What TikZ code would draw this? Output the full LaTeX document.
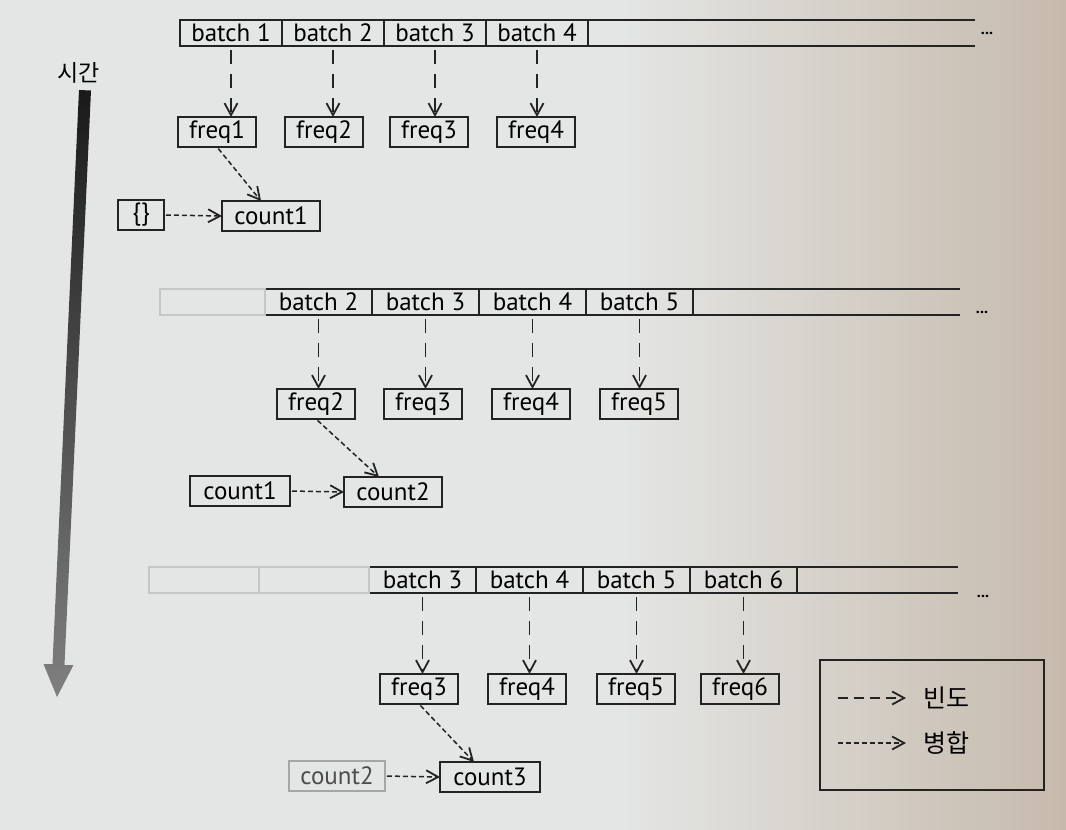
\documentclass[tikz,border=0pt]{standalone}
\usepackage{fontspec}
\setmainfont{PT Sans}
\newfontfamily\kofont{Noto Sans CJK KR}
\usetikzlibrary{positioning,arrows.meta}
\definecolor{paper}{RGB}{228,230,229}
\definecolor{paperdark}{RGB}{198,186,172}
\definecolor{ink}{RGB}{35,35,35}
\tikzset{
	cell/.style={draw=ink,line width=0.9pt,minimum width=#1,minimum height=13pt,inner sep=0pt,outer sep=0pt,font=\fontsize{12.5}{14}\selectfont},
	cell/.default=51pt,
	emptycell/.style={cell=#1,draw=gray!45},
	box/.style={draw=ink,line width=0.9pt,minimum width=#1,minimum height=15pt,inner sep=1pt,outer sep=0pt,font=\fontsize{12.5}{14}\selectfont},
	box/.default=39pt,
	freqarrow/.style={ink,line width=0.75pt,dash pattern=on 7pt off 5pt,shorten <=2pt,-{Straight Barb[length=6pt,width=6.5pt,line width=0.9pt]}},
	mergearrow/.style={ink,line width=0.75pt,dash pattern=on 2.5pt off 1.5pt,shorten <=1pt,-{Straight Barb[length=6pt,width=6.5pt,line width=0.9pt]}},
	dots/.style={font=\bfseries\fontsize{8}{8}\selectfont,inner sep=0pt}
}
\begin{document}
\begin{tikzpicture}[x=0.5pt,y=-0.5pt]
		\useasboundingbox (0,0) rectangle (1066,830);
		\fill[paper] (0,0) rectangle (1066,830);
		\shade[left color=paper,right color=paperdark] (620,0) rectangle (1066,830);
		\shade[top color=black!90,bottom color=black!50]
			(79,90) -- (91,90.5) -- (64.5,665) -- (73.5,665) -- (57,697) -- (43.5,664) -- (52.5,664) -- cycle;
		\node[font=\kofont\fontsize{11.5}{13}\selectfont] (time) at (79,73) {시간};

		\node[cell] (b11) at (231,33) {batch 1};
		\node[cell] (b12) [right=0 of b11] {batch 2};
		\node[cell] (b13) [right=0 of b12] {batch 3};
		\node[cell] (b14) [right=0 of b13] {batch 4};
		\coordinate (t1) at (975,33);
		\draw[ink,line width=0.9pt] (b14.north east) -- (t1 |- b14.north) (b14.south east) -- (t1 |- b14.south);
		\node[dots] (d1) at (987,33) {...};
		\node[box] (f11) at (217,132) {freq1};
		\node[box] (f12) at (324,132) {freq2};
		\node[box] (f13) at (429,132) {freq3};
		\node[box] (f14) at (536,132) {freq4};
		\node[box=23pt] (e1) at (141,215) {\{\}};
		\node[box=49pt] (c11) at (271,216) {count1};
		\foreach \i in {1,...,4}
			\draw[freqarrow] (b1\i.south) -- (b1\i.south |- f1\i.north);
		\draw[mergearrow] (f11.south) -- ([xshift=-5pt]c11.north);
		\draw[mergearrow] (e1.east) -- (c11.west);

		\node[cell=53.5pt] (b22) at (318.5,302) {batch 2};
		\node[emptycell=52.5pt] (g21) [left=0 of b22] {};
		\node[cell=53.5pt] (b23) [right=0 of b22] {batch 3};
		\node[cell=53.5pt] (b24) [right=0 of b23] {batch 4};
		\node[cell=53.5pt] (b25) [right=0 of b24] {batch 5};
		\coordinate (t2) at (960,302);
		\draw[ink,line width=0.9pt] (b25.north east) -- (t2 |- b25.north) (b25.south east) -- (t2 |- b25.south);
		\node[dots] (d2) at (982,312) {...};
		\node[box] (f22) at (316,404) {freq2};
		\node[box] (f23) at (423,404) {freq3};
		\node[box] (f24) at (531,404) {freq4};
		\node[box] (f25) at (639,404) {freq5};
		\node[box=50pt] (c21) at (240,491) {count1};
		\node[box=49pt] (c22) at (393,492) {count2};
		\foreach \i in {2,...,5}
			\draw[freqarrow] (b2\i.south) -- (b2\i.south |- f2\i.north);
		\draw[mergearrow] (f22.south) -- ([xshift=-7pt]c22.north);
		\draw[mergearrow] (c21.east) -- (c22.west);

		\node[cell=53.5pt] (b33) at (422.5,580) {batch 3};
		\node[emptycell=55pt] (g32) [left=0 of b33] {};
		\node[emptycell=55pt] (g31) [left=0 of g32] {};
		\node[cell=53.5pt] (b34) [right=0 of b33] {batch 4};
		\node[cell=53.5pt] (b35) [right=0 of b34] {batch 5};
		\node[cell=53.5pt] (b36) [right=0 of b35] {batch 6};
		\coordinate (t3) at (958,580);
		\draw[ink,line width=0.9pt] (b36.north east) -- (t3 |- b36.north) (b36.south east) -- (t3 |- b36.south);
		\node[dots] (d3) at (983,596) {...};
		\node[box] (f33) at (419,689) {freq3};
		\node[box] (f34) at (527,689) {freq4};
		\node[box] (f35) at (636,689) {freq5};
		\node[box] (f36) at (740,689) {freq6};
		\node[box=48pt,draw=gray!70,text=black!70] (c32) at (337,776) {count2};
		\node[box=50pt] (c33) at (490,777) {count3};
		\foreach \i in {3,...,6}
			\draw[freqarrow] (b3\i.south) -- (b3\i.south |- f3\i.north);
		\draw[mergearrow] (f33.south) -- ([xshift=-8pt]c33.north);
		\draw[mergearrow] (c32.east) -- (c33.west);

		\node[draw=ink,line width=1pt,minimum width=112pt,minimum height=65pt,inner sep=0pt] (legend) at (932,725) {};
		\coordinate (l1a) at (838,698);
		\coordinate (l1b) at (906,698);
		\coordinate (l2a) at (838,743);
		\coordinate (l2b) at (906,743);
		\draw[freqarrow,dash pattern=on 5pt off 3pt,shorten <=0pt] (l1a) -- (l1b);
		\draw[mergearrow,shorten <=0pt] (l2a) -- (l2b);
		\node[font=\kofont\fontsize{12.5}{14}\selectfont,anchor=west] (lfreq) at (916,698) {빈도};
		\node[font=\kofont\fontsize{12.5}{14}\selectfont,anchor=west] (lmerge) at (916,743) {병합};
	\end{tikzpicture}
\end{document}
